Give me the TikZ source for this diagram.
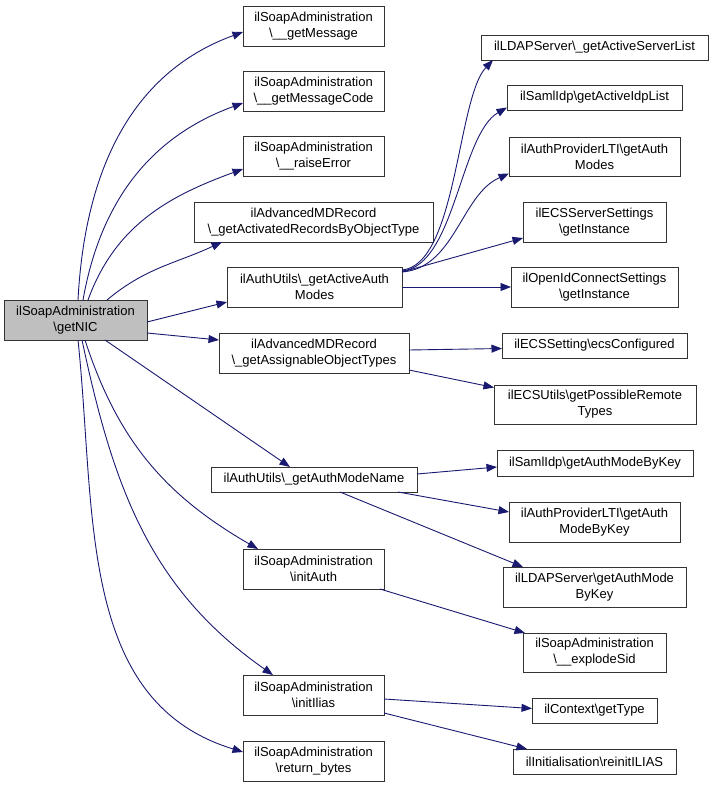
\documentclass[tikz,border=0pt]{standalone}
\usepackage{fontspec}
\setmainfont{Liberation Sans}
\usetikzlibrary{arrows.meta}
\definecolor{edgec}{HTML}{191970}
\tikzset{
  box/.style={draw=black!80, fill=white, line width=0.9pt, inner sep=0pt, outer sep=0pt,
    align=center, font=\fontsize{13}{16}\selectfont},
  edge/.style={draw=edgec, line width=0.9pt, -{Triangle[length=10.5pt,width=8pt]}}
}
\newcommand\mybox[7][]{\node[box,#1,minimum width={(#5-#3)*1pt},minimum height={(#6-#4)*1pt}] (#2) at ({(#3+#5)/2},{(#4+#6)/2}) {#7};}
\newcommand\bs{\textbackslash}
\begin{document}
\begin{tikzpicture}[x=1pt,y=-1pt]
\useasboundingbox (0,0) rectangle (713,787);
% left
\mybox[fill=black!25]{nic}{4}{300}{147}{340}{ilSoapAdministration\\\bs getNIC}
% middle
\mybox{gm}{243}{6}{384}{46}{ilSoapAdministration\\\bs\_\_getMessage}
\mybox{gmc}{243}{71}{384}{111}{ilSoapAdministration\\\bs\_\_getMessageCode}
\mybox{re}{243}{136}{384}{176}{ilSoapAdministration\\\bs\_\_raiseError}
\mybox{act}{194}{202}{433}{242}{ilAdvancedMDRecord\\\bs\_getActivatedRecordsByObjectType}
\mybox{aam}{227}{267}{402}{307}{ilAuthUtils\bs\_getActiveAuth\\Modes}
\mybox{asg}{219}{333}{409}{373}{ilAdvancedMDRecord\\\bs\_getAssignableObjectTypes}
\mybox{amn}{211}{467}{417}{492}{ilAuthUtils\bs\_getAuthModeName}
\mybox{ia}{243}{549}{384}{589}{ilSoapAdministration\\\bs initAuth}
\mybox{ii}{243}{675}{384}{715}{ilSoapAdministration\\\bs initIlias}
\mybox{rb}{243}{741}{384}{781}{ilSoapAdministration\\\bs return\_bytes}
% right
\mybox{asl}{481}{35}{708}{60}{ilLDAPServer\bs\_getActiveServerList}
\mybox{sil}{507}{85}{682}{110}{ilSamlIdp\bs getActiveIdpList}
\mybox{lti}{509}{137}{680}{176}{ilAuthProviderLTI\bs getAuth\\Modes}
\mybox{ecs}{523}{202}{666}{242}{ilECSServerSettings\\\bs getInstance}
\mybox{oid}{511}{267}{678}{307}{ilOpenIdConnectSettings\\\bs getInstance}
\mybox{ecc}{502}{333}{687}{358}{ilECSSetting\bs ecsConfigured}
\mybox{prt}{494}{385}{696}{424}{ilECSUtils\bs getPossibleRemote\\Types}
\mybox{sk}{497}{450}{693}{476}{ilSamlIdp\bs getAuthModeByKey}
\mybox{lk}{509}{502}{680}{542}{ilAuthProviderLTI\bs getAuth\\ModeByKey}
\mybox{dk}{503}{567}{686}{607}{ilLDAPServer\bs getAuthMode\\ByKey}
\mybox{es}{523}{633}{666}{672}{ilSoapAdministration\\\bs\_\_explodeSid}
\mybox{gt}{532}{698}{657}{723}{ilContext\bs getType}
\mybox{ri}{513}{749}{676}{774}{ilInitialisation\bs reinitILIAS}
% edges from nic
\draw[edge] ([xshift=2.5pt]nic.north) to[out=87,in=200] ([yshift=-6pt]gm.west);
\draw[edge] ([xshift=7.5pt]nic.north) to[out=80,in=200] ([yshift=-12pt]gmc.west);
\draw[edge] ([xshift=12.5pt]nic.north) to[out=70,in=200] ([yshift=-13pt]re.west);
\draw[edge] ([xshift=31.5pt]nic.north) to[out=40,in=205] ([xshift=28pt]act.south west);
\draw[edge] ([yshift=-2pt]nic.east) -- ([yshift=-15pt]aam.west);
\draw[edge] ([yshift=-13pt]nic.east) -- ([yshift=13pt]asg.west);
\draw[edge] ([xshift=29.5pt]nic.south) -- ([xshift=-24pt]amn.north);
\draw[edge] ([xshift=9.5pt]nic.south) to[out=-72,in=150] ([xshift=15pt]ia.north west);
\draw[edge] ([xshift=6.5pt]nic.south) to[out=-78,in=145] ([xshift=30pt]ii.north west);
\draw[edge] ([xshift=2.5pt]nic.south) to[out=-84,in=163] ([yshift=9pt]rb.west);
% edges from aam
\draw[edge] ([yshift=-3pt]aam.north east) .. controls +(55,-5) and +(-36,38) .. ([xshift=12pt]asl.south west);
\draw[edge] ([yshift=-4pt]aam.north east) .. controls +(53,-5) and +(-47,27) .. ([yshift=-10pt]sil.west);
\draw[edge] ([yshift=-5pt]aam.north east) .. controls +(53,-4) and +(-48,21) .. ([yshift=-17pt]lti.west);
\draw[edge] ([yshift=-5pt]aam.north east) -- ([yshift=-16pt]ecs.west);
\draw[edge] (aam.east) -- (oid.west);
% edges from asg
\draw[edge] ([yshift=3pt]asg.east) -- ([yshift=-3pt]ecc.west);
\draw[edge] ([yshift=-17pt]asg.east) -- ([yshift=17pt]prt.west);
% edges from amn
\draw[edge] ([yshift=5.5pt]amn.east) -- ([yshift=-4pt]sk.west);
\draw[edge] ([xshift=-19pt]amn.south east) -- ([yshift=10pt]lk.west);
\draw[edge] ([xshift=26pt]amn.south) -- ([xshift=20pt]dk.north west);
% initAuth, initIlias
\draw[edge] ([xshift=-4pt]ia.south east) -- ([xshift=2pt]es.north west);
\draw[edge] ([yshift=-4pt]ii.east) -- ([yshift=2pt]gt.west);
\draw[edge] ([yshift=-18pt]ii.east) -- ([xshift=14pt]ri.north west);
\end{tikzpicture}
\end{document}
